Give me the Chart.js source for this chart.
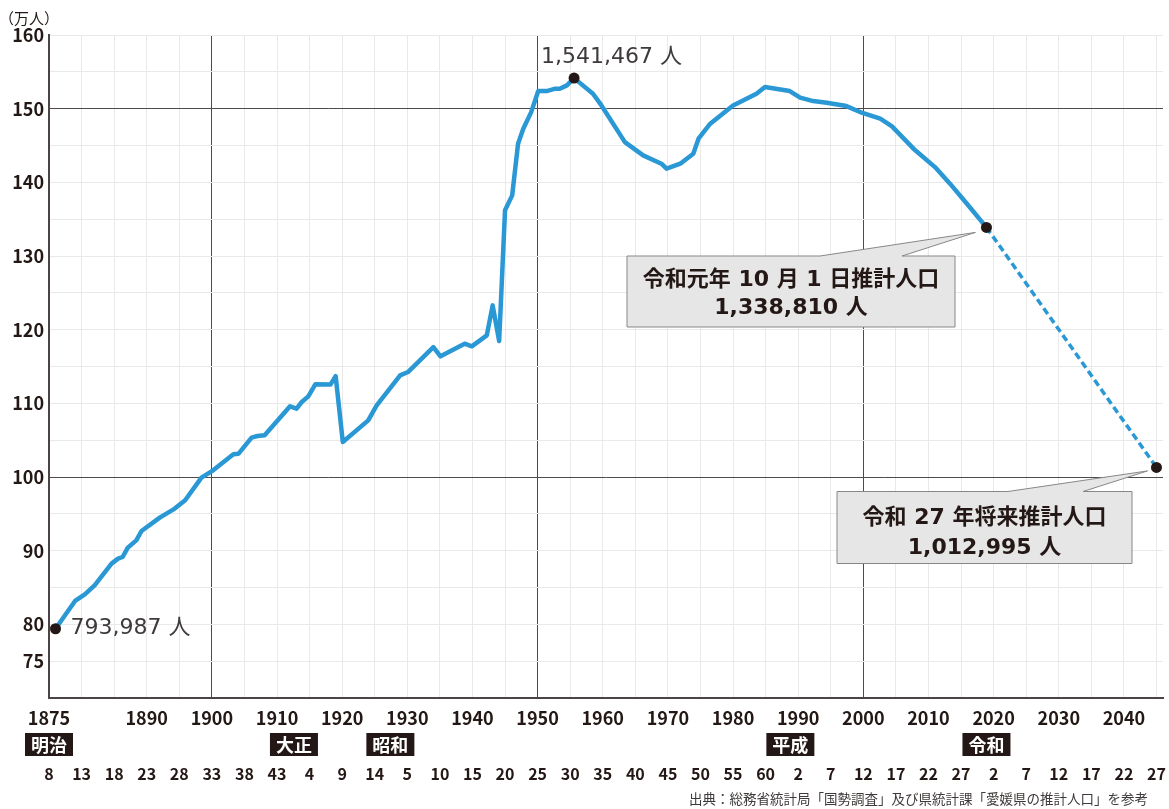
<!DOCTYPE html>
<html lang="ja">
<head>
<meta charset="utf-8">
<title>愛媛県の人口の推移</title>
<script src="https://cdn.jsdelivr.net/npm/chart.js@4/dist/chart.umd.min.js"></script>
<style>
  html, body { margin: 0; padding: 0; background: #fff; }
  #wrap { position: relative; width: 1169px; height: 809px; }
</style>
</head>
<body>
<div id="wrap"><canvas id="chart" width="1169" height="809"></canvas></div>
<script>
// 人口（万人）: 調査・推計時点（西暦年）ごとの値
const years = [
  1876.0, 1879.0, 1880.5, 1882.0, 1884.6, 1885.6, 1886.3, 1887.1, 1888.4, 1889.2,
  1892.0, 1894.3, 1895.9, 1898.4, 1900.2, 1903.3, 1904.1, 1906.1, 1907.0, 1908.1,
  1912.0, 1913.0, 1913.8, 1914.8, 1915.9, 1918.2, 1919.0, 1920.1, 1924.0, 1925.3,
  1928.9, 1930.1, 1934.0, 1935.1, 1938.8, 1939.9, 1942.2, 1943.1, 1944.1, 1945.0,
  1946.1, 1947.0, 1947.8, 1949.0, 1950.1, 1951.4, 1952.7, 1953.4, 1954.5, 1955.6,
  1958.5, 1959.8, 1963.4, 1966.2, 1969.0, 1969.8, 1971.9, 1973.9, 1974.7, 1976.5,
  1980.0, 1983.6, 1984.9, 1988.7, 1990.3, 1992.3, 1994.4, 1997.4, 1999.5, 2002.6,
  2004.4, 2007.7, 2011.0, 2013.3, 2015.9, 2018.9
];
const population = [
  79.3987, 83.17, 84.07, 85.30, 88.24, 88.92, 89.14, 90.41, 91.40, 92.67,
  94.49, 95.71, 96.84, 99.92, 100.90, 103.10, 103.17, 105.35, 105.57, 105.66,
  109.60, 109.28, 110.18, 110.95, 112.60, 112.54, 113.70, 104.75, 107.69, 109.73,
  113.80, 114.25, 117.64, 116.38, 118.10, 117.74, 119.23, 123.30, 118.46, 136.20,
  138.23, 145.24, 147.28, 149.50, 152.39, 152.39, 152.71, 152.71, 153.16, 154.1467,
  152.03, 150.44, 145.46, 143.66, 142.53, 141.85, 142.53, 143.89, 145.93, 147.96,
  150.44, 152.03, 152.93, 152.39, 151.49, 151.03, 150.81, 150.35, 149.54, 148.64,
  147.60, 144.57, 142.07, 139.82, 137.10, 133.881
];

// 将来推計（破線）
const projYears = [2018.9, 2045.0];
const projPopulation = [133.881, 101.2995];

// 注記つきの点
const markYears  = [1876.0, 1955.6, 2018.9, 2045.0];
const markValues = [79.3987, 154.1467, 133.881, 101.2995];

// 目盛り
const xTickYears = [
  1875, 1880, 1885, 1890, 1895, 1900, 1905, 1910, 1915, 1920, 1925, 1930,
  1935, 1940, 1945, 1950, 1955, 1960, 1965, 1970, 1975, 1980, 1985, 1990,
  1995, 2000, 2005, 2010, 2015, 2020, 2025, 2030, 2035, 2040, 2045
];
const xLabelYears = [1875, 1890, 1900, 1910, 1920, 1930, 1940, 1950, 1960, 1970,
                     1980, 1990, 2000, 2010, 2020, 2030, 2040];
const xMajorYears = [1900, 1950, 2000];
const warekiLabels = [
  '8', '13', '18', '23', '28', '33', '38', '43', '4', '9', '14', '5',
  '10', '15', '20', '25', '30', '35', '40', '45', '50', '55', '60', '2',
  '7', '12', '17', '22', '27', '2', '7', '12', '17', '22', '27'
];
const eraNames = ['明治', '大正', '昭和', '平成', '令和'];
const eraStart = [1875.0, 1912.6, 1927.4, 1988.8, 2018.9];
const yTicks = [70, 75, 80, 85, 90, 95, 100, 105, 110, 115, 120, 125, 130,
                135, 140, 145, 150, 155, 160];
const yLabelValues = [75, 80, 90, 100, 110, 120, 130, 140, 150, 160];
const yMajorValues = [100, 150];

const callouts = [
  { title: '令和元年 10 月 1 日推計人口', index: 2 },
  { title: '令和 27 年将来推計人口', index: 3 }
];

const JP = '"Noto Sans CJK JP", "Noto Sans", sans-serif';
const NUM = '"DejaVu Sans", "Noto Sans CJK JP", sans-serif';
const INK = '#231815';
const LINE = '#2a98d5';
const GRID_LIGHT = '#e9e9e9';
const GRID_DARK = '#4f4b4a';

const toPeople = v => Math.round(v * 10000).toLocaleString('en-US') + ' 人';

// 吹き出しの形と位置
const boxStyle = [
  { x: 627, y: 256, w: 328, h: 71, base: [820, 902], tip: [-11, 5], l1: 24, l2: 52 },
  { x: 837, y: 491.5, w: 295, h: 72, base: [1008, 1083], tip: [-9, 3.5], l1: 26.5, l2: 56.5 }
];

const decor = {
  id: 'decor',
  beforeDatasetsDraw(chart) {
    const { ctx, scales } = chart;
    ctx.save();
    callouts.forEach((c, k) => {
      const s = boxStyle[k];
      const px = scales.x.getPixelForValue(markYears[c.index]);
      const py = scales.y.getPixelForValue(markValues[c.index]);
      ctx.beginPath();
      ctx.moveTo(s.x, s.y);
      ctx.lineTo(s.base[0], s.y);
      ctx.lineTo(px + s.tip[0], py + s.tip[1]);
      ctx.lineTo(s.base[1], s.y);
      ctx.lineTo(s.x + s.w, s.y);
      ctx.lineTo(s.x + s.w, s.y + s.h);
      ctx.lineTo(s.x, s.y + s.h);
      ctx.closePath();
      ctx.fillStyle = '#e6e6e6';
      ctx.fill();
      ctx.lineWidth = 1;
      ctx.strokeStyle = '#878787';
      ctx.stroke();
      ctx.fillStyle = INK;
      ctx.font = 'bold 22px ' + NUM;
      ctx.textAlign = 'center';
      ctx.textBaseline = 'middle';
      const cx = s.x + s.w / 2;
      ctx.fillText(c.title, cx, s.y + s.l1);
      ctx.fillText(toPeople(markValues[c.index]), cx, s.y + s.l2);
    });
    ctx.restore();
  },
  afterDatasetsDraw(chart) {
    const { ctx, scales } = chart;
    ctx.save();
    // 点の値
    ctx.fillStyle = '#3e3a39';
    ctx.font = '22px ' + NUM;
    ctx.textAlign = 'left';
    ctx.textBaseline = 'middle';
    const p0x = scales.x.getPixelForValue(markYears[0]);
    const p0y = scales.y.getPixelForValue(markValues[0]);
    ctx.fillText(toPeople(markValues[0]), p0x + 15, p0y);
    const p1x = scales.x.getPixelForValue(markYears[1]);
    const p1y = scales.y.getPixelForValue(markValues[1]);
    ctx.fillText(toPeople(markValues[1]), p1x - 33, p1y - 21);

    // 単位
    ctx.fillStyle = INK;
    ctx.font = '15px ' + JP;
    ctx.textAlign = 'center';
    ctx.fillText('（万人）', 29, 18);

    // 元号
    eraNames.forEach((name, i) => {
      const cx = scales.x.getPixelForValue(eraStart[i]);
      ctx.fillStyle = INK;
      ctx.fillRect(cx - 24, 733, 48, 23);
      ctx.fillStyle = '#ffffff';
      ctx.font = 'bold 18px ' + JP;
      ctx.textAlign = 'center';
      ctx.textBaseline = 'middle';
      ctx.fillText(name, cx, 745);
    });

    // 出典
    ctx.fillStyle = '#3e3a39';
    ctx.font = '13.5px ' + JP;
    ctx.textAlign = 'right';
    ctx.textBaseline = 'middle';
    ctx.fillText('出典：総務省統計局「国勢調査」及び県統計課「愛媛県の推計人口」を参考', 1148, 799);
    ctx.restore();
  }
};

const xRange = { min: 1875, max: 2046 };

// 下側の軸は高さと左右の余白を固定する
const fixBottomAxis = h => s => {
  s.height = h;
  s.paddingLeft = 0;
  s.paddingRight = 0;
  s.paddingTop = 0;
  s.paddingBottom = 0;
};

new Chart(document.getElementById('chart'), {
  type: 'line',
  data: {
    datasets: [
      {
        label: '注記点',
        data: markYears.map((x, i) => ({ x, y: markValues[i] })),
        showLine: false,
        pointRadius: 5.5,
        pointBackgroundColor: INK,
        pointBorderWidth: 0,
        order: 0
      },
      {
        label: '人口',
        data: years.map((x, i) => ({ x, y: population[i] })),
        borderColor: LINE,
        borderWidth: 4.5,
        borderJoinStyle: 'round',
        borderCapStyle: 'round',
        pointRadius: 0,
        tension: 0,
        order: 1
      },
      {
        label: '将来推計',
        data: projYears.map((x, i) => ({ x, y: projPopulation[i] })),
        borderColor: LINE,
        borderWidth: 3.5,
        borderDash: [7, 4],
        borderCapStyle: 'butt',
        pointRadius: 0,
        tension: 0,
        order: 2
      }
    ]
  },
  options: {
    responsive: false,
    animation: false,
    devicePixelRatio: 1,
    layout: { padding: { top: 35, right: 6, bottom: 25, left: 0 } },
    plugins: { legend: { display: false }, tooltip: { enabled: false } },
    scales: {
      x: {
        type: 'linear', position: 'bottom', weight: 0, ...xRange,
        afterBuildTicks: s => { s.ticks = xTickYears.map(v => ({ value: v })); },
        afterFit: fixBottomAxis(31),
        ticks: {
          autoSkip: false, maxRotation: 0, padding: 9, color: INK,
          font: { family: JP, size: 18, weight: 'bold' },
          callback: v => xLabelYears.includes(v) ? String(v) : ''
        },
        grid: {
          drawTicks: false, lineWidth: 1,
          color: c => (c.tick && xMajorYears.includes(c.tick.value)) ? GRID_DARK : GRID_LIGHT
        },
        border: { display: true, color: '#4a4544', width: 2 }
      },
      x2: {
        type: 'linear', position: 'bottom', weight: 1, ...xRange,
        afterBuildTicks: s => { s.ticks = xTickYears.map(v => ({ value: v })); },
        afterFit: fixBottomAxis(55),
        ticks: {
          autoSkip: false, maxRotation: 0, padding: 35, color: INK,
          font: { family: JP, size: 16, weight: 'bold' },
          callback: (v, i) => warekiLabels[i]
        },
        grid: { display: false, drawTicks: false },
        border: { display: false }
      },
      y: {
        type: 'linear', min: 70, max: 160,
        afterBuildTicks: s => { s.ticks = yTicks.map(v => ({ value: v })); },
        afterFit: s => { s.width = 49; },
        ticks: {
          padding: 5, color: INK,
          font: { family: JP, size: 18, weight: 'bold' },
          callback: v => yLabelValues.includes(v) ? String(v) : ''
        },
        grid: {
          drawTicks: false, lineWidth: 1,
          color: c => (c.tick && yMajorValues.includes(c.tick.value)) ? GRID_DARK : GRID_LIGHT
        },
        border: { display: true, color: '#4a4544', width: 2 }
      }
    }
  },
  plugins: [decor]
});
</script>
</body>
</html>
